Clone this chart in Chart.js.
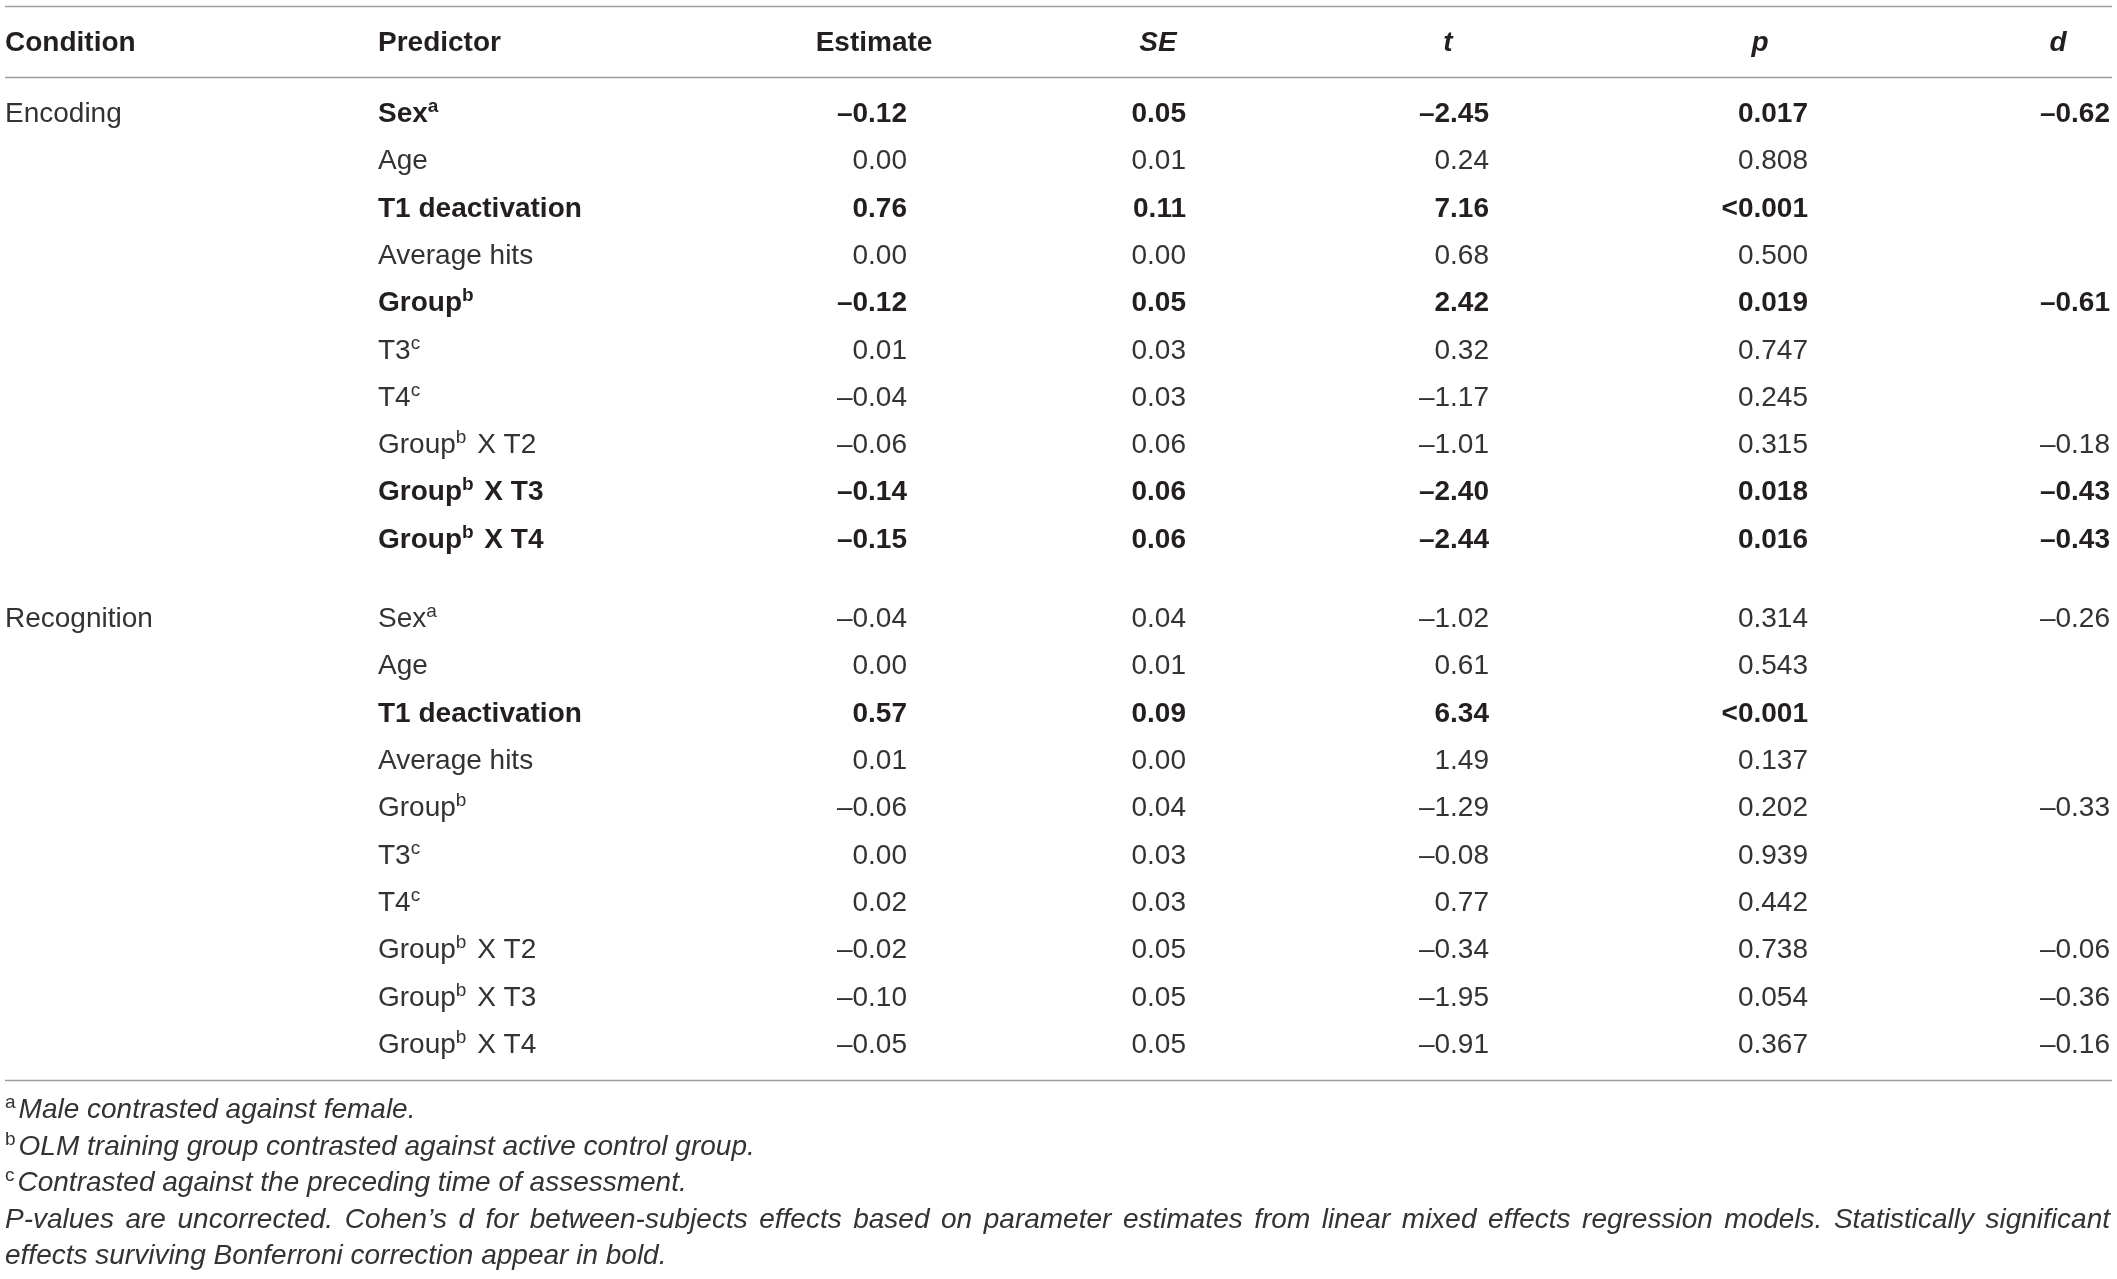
<!DOCTYPE html>
<html lang="en">
<head>
    <meta charset="UTF-8">
    <title>Regression results table</title>
    <style>body {
    margin: 0;
    padding: 0;
    background-color: #fff;
}

.wrap {
    width: 2117px;
    height: 1279px;
}</style>
    <script src="https://cdn.jsdelivr.net/npm/chart.js@4.4.1/dist/chart.umd.min.js"></script>
</head>
<body>
    <div class="wrap">
        <canvas id="tableChart" width="2117" height="1279"></canvas>
    </div>

    <script>
        // Table content
        const headers = ['Condition', 'Predictor', 'Estimate', 'SE', 't', 'p', 'd'];
        const conditions = ['Encoding', 'Recognition'];
        const predictors = ['Sex^a', 'Age', 'T1 deactivation', 'Average hits', 'Group^b', 'T3^c', 'T4^c',
            'Group^b X T2', 'Group^b X T3', 'Group^b X T4'];

        const encEstimate = [-0.12, 0.00, 0.76, 0.00, -0.12, 0.01, -0.04, -0.06, -0.14, -0.15];
        const encSE = [0.05, 0.01, 0.11, 0.00, 0.05, 0.03, 0.03, 0.06, 0.06, 0.06];
        const encT = [-2.45, 0.24, 7.16, 0.68, 2.42, 0.32, -1.17, -1.01, -2.40, -2.44];
        const encP = ['0.017', '0.808', '<0.001', '0.500', '0.019', '0.747', '0.245', '0.315', '0.018', '0.016'];
        const encD = [-0.62, null, null, null, -0.61, null, null, -0.18, -0.43, -0.43];
        const encBold = [true, false, true, false, true, false, false, false, true, true];

        const recEstimate = [-0.04, 0.00, 0.57, 0.01, -0.06, 0.00, 0.02, -0.02, -0.10, -0.05];
        const recSE = [0.04, 0.01, 0.09, 0.00, 0.04, 0.03, 0.03, 0.05, 0.05, 0.05];
        const recT = [-1.02, 0.61, 6.34, 1.49, -1.29, -0.08, 0.77, -0.34, -1.95, -0.91];
        const recP = ['0.314', '0.543', '<0.001', '0.137', '0.202', '0.939', '0.442', '0.738', '0.054', '0.367'];
        const recD = [-0.26, null, null, null, -0.33, null, null, -0.06, -0.36, -0.16];
        const recBold = [false, false, true, false, false, false, false, false, false, false];

        const footnotes = [
            '^aMale contrasted against female.',
            '^bOLM training group contrasted against active control group.',
            '^cContrasted against the preceding time of assessment.',
            'P-values are uncorrected. Cohen\u2019s d for between-subjects effects based on parameter estimates from linear mixed effects regression models. Statistically significant',
            'effects surviving Bonferroni correction appear in bold.'
        ];

        // Layout (x in canvas px units, y in row units)
        const colX = [5, 378, 907, 1186, 1489, 1808, 2110];       // left edge for text cols, right edge for numbers
        const headX = [5, 378, 874, 1158, 1448, 1760, 2058];
        const headY = -1.5;
        const groupStart = [0, 10.68];
        const ruleY = [-2.45, -0.95, 20.25];
        const noteY = 21.06, noteStep = 0.771;
        const FONT = '"Liberation Sans", Arial, Helvetica, sans-serif';
        const INK = '#231f20';
        const INK_LIGHT = '#333';

        const fmt = v => (v === null ? '' : (v < 0 ? '\u2013' + Math.abs(v).toFixed(2) : v.toFixed(2)));

        const groups = [
            { est: encEstimate, se: encSE, t: encT, p: encP, d: encD, bold: encBold },
            { est: recEstimate, se: recSE, t: recT, p: recP, d: recD, bold: recBold }
        ];

        // one dataset per column, one point per cell
        function colData(col) {
            const pts = [];
            groups.forEach((g, gi) => {
                predictors.forEach((pred, i) => {
                    let txt;
                    if (col === 0) txt = i === 0 ? conditions[gi] : '';
                    else if (col === 1) txt = pred;
                    else if (col === 2) txt = fmt(g.est[i]);
                    else if (col === 3) txt = fmt(g.se[i]);
                    else if (col === 4) txt = fmt(g.t[i]);
                    else if (col === 5) txt = g.p[i];
                    else txt = fmt(g.d[i]);
                    pts.push({ x: colX[col], y: groupStart[gi] + i, txt: txt, bold: col > 0 && g.bold[i] });
                });
            });
            return pts;
        }

        const datasets = headers.map((h, c) => ({
            label: h,
            data: colData(c),
            pointRadius: 0,
            showLine: false,
            align: c < 2 ? 'left' : 'right'
        }));

        function font(size, bold, italic) {
            return (italic ? 'italic ' : '') + (bold ? 'bold ' : '') + size + 'px ' + FONT;
        }

        // draws text with ^x superscripts
        function drawRich(ctx, text, x, y, align, bold, italic) {
            const parts = [];
            const re = /\^(\w)/g;
            let last = 0, m;
            while ((m = re.exec(text)) !== null) {
                if (m.index > last) parts.push({ s: text.slice(last, m.index), sup: false });
                parts.push({ s: m[1], sup: true });
                last = re.lastIndex;
            }
            if (last < text.length) parts.push({ s: text.slice(last), sup: false });

            ctx.fillStyle = bold ? INK : INK_LIGHT;
            const widths = parts.map(p => {
                ctx.font = p.sup ? font(19, bold, false) : font(28, bold, italic);
                return ctx.measureText(p.s).width + (p.sup ? 3 : 0);
            });
            const total = widths.reduce((a, b) => a + b, 0);
            let cx = align === 'right' ? x - total : (align === 'center' ? x - total / 2 : x);
            parts.forEach((p, i) => {
                ctx.font = p.sup ? font(19, bold, false) : font(28, bold, italic);
                ctx.fillText(p.s, cx, p.sup ? y - 10 : y);
                cx += widths[i];
            });
        }

        // justified line (spreads the gaps between words)
        function drawJustified(ctx, text, x, y, width) {
            ctx.font = font(28, false, true);
            ctx.fillStyle = INK_LIGHT;
            const words = text.split(' ');
            const used = words.reduce((a, w) => a + ctx.measureText(w).width, 0);
            const gap = (width - used) / (words.length - 1);
            let cx = x;
            words.forEach(w => {
                ctx.fillText(w, cx, y);
                cx += ctx.measureText(w).width + gap;
            });
        }

        const tablePlugin = {
            id: 'tableText',
            afterDatasetsDraw(chart) {
                const ctx = chart.ctx;
                const xs = chart.scales.x, ys = chart.scales.y;
                ctx.save();
                ctx.textBaseline = 'alphabetic';
                ctx.textAlign = 'left';

                // rules
                ctx.strokeStyle = '#9d9d9d';
                ctx.lineWidth = 1.6;
                ruleY.forEach(r => {
                    const py = Math.round(ys.getPixelForValue(r)) + 0.5;
                    ctx.beginPath();
                    ctx.moveTo(xs.getPixelForValue(5), py);
                    ctx.lineTo(xs.getPixelForValue(2112), py);
                    ctx.stroke();
                });

                // headers
                headers.forEach((h, c) => {
                    const px = xs.getPixelForValue(headX[c]);
                    const py = ys.getPixelForValue(headY);
                    drawRich(ctx, h, px, py, c < 2 ? 'left' : 'center', true, c > 2);
                });

                // cells
                chart.data.datasets.forEach((ds, di) => {
                    const meta = chart.getDatasetMeta(di);
                    meta.data.forEach((el, i) => {
                        const pt = ds.data[i];
                        if (!pt.txt) return;
                        drawRich(ctx, pt.txt, el.x, el.y, ds.align, pt.bold, false);
                    });
                });

                // footnotes
                footnotes.forEach((f, i) => {
                    const py = ys.getPixelForValue(noteY + i * noteStep);
                    const px = xs.getPixelForValue(5);
                    if (i === 3) {
                        drawJustified(ctx, f, px, py, xs.getPixelForValue(2110) - px);
                    } else {
                        drawRich(ctx, f, px, py, 'left', false, true);
                    }
                });
                ctx.restore();
            }
        };

        new Chart(document.getElementById('tableChart').getContext('2d'), {
            type: 'scatter',
            data: { datasets: datasets },
            options: {
                responsive: false,
                animation: false,
                layout: { padding: 0 },
                plugins: {
                    legend: { display: false },
                    tooltip: { enabled: false }
                },
                scales: {
                    x: { type: 'linear', display: false, min: 0, max: 2117 },
                    y: { type: 'linear', display: false, reverse: true, min: -2.579, max: 24.46 }
                }
            },
            plugins: [tablePlugin]
        });
    </script>
</body>
</html>
